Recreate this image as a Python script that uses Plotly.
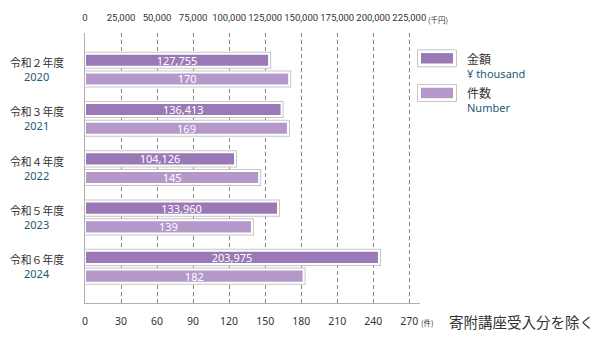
import plotly.graph_objects as go

# ---- data ----
year_labels = ["令和２年度", "令和３年度", "令和４年度", "令和５年度", "令和６年度"]
fiscal_years = ["2020", "2021", "2022", "2023", "2024"]
amounts = [127755, 136413, 104126, 133960, 203975]   # 金額 (千円)
counts = [170, 169, 145, 139, 182]                     # 件数
amount_ticks = [0, 25000, 50000, 75000, 100000, 125000, 150000, 175000, 200000, 225000]
count_ticks = [0, 30, 60, 90, 120, 150, 180, 210, 240, 270]

# ---- style ----
C_AMT = "#9b79b6"
C_CNT = "#b598ca"
C_EDGE = "#c6c6c6"
C_TEAL = "#1d5877"
C_TXT = "#333333"
FONT = "Noto Sans, Open Sans, sans-serif"
CJK = "Noto Sans CJK JP, Noto Sans, sans-serif"
COND = "Roboto, Noto Sans, sans-serif"

W, H = 600, 340
L, R, T, B = 85, 420, 27, 305
BAR_W = 0.266
OFF = 0.19

idx = list(range(len(year_labels)))
amt_y = [i - OFF for i in idx]
cnt_y = [i + OFF for i in idx]

fig = go.Figure()

def add_bars(xvals, yvals, color, xaxis, texts):
    # outer grey frame
    fig.add_trace(go.Bar(
        x=xvals, y=yvals, orientation="h", width=BAR_W, xaxis=xaxis,
        marker=dict(color="white", line=dict(color=C_EDGE, width=4)),
        hoverinfo="skip", showlegend=False))
    # purple bar with white border
    fig.add_trace(go.Bar(
        x=xvals, y=yvals, orientation="h", width=BAR_W, xaxis=xaxis,
        marker=dict(color=color, line=dict(color="white", width=2)),
        text=texts, textposition="inside", insidetextanchor="middle",
        constraintext="none",
        textfont=dict(color="white", size=11, family=FONT),
        showlegend=False))

add_bars(counts, cnt_y, C_CNT, "x", [f"{v:,}" for v in counts])
add_bars(amounts, amt_y, C_AMT, "x2", [f"{v:,}" for v in amounts])

cnt_max = 270 * (R - L) / (36.03 * 9)
amt_max = 225000 * (R - L) / (36.03 * 9)

fig.update_layout(
    width=W, height=H,
    margin=dict(l=L, r=W - R, t=T, b=H - B, pad=0),
    paper_bgcolor="white", plot_bgcolor="white",
    barmode="overlay",
    xaxis=dict(
        range=[0, cnt_max], tickvals=count_ticks,
        ticktext=[str(v) for v in count_ticks],
        showgrid=True, gridcolor="#8a8a8a", griddash="4px,3px", gridwidth=1,
        zeroline=False, showline=True, linecolor="#b0b0b0", linewidth=1,
        ticks="", ticklabelstandoff=8, tickangle=0,
        tickfont=dict(family=FONT, size=10.5, color=C_TXT),
        fixedrange=True),
    xaxis2=dict(
        range=[0, amt_max], overlaying="x", side="top",
        tickvals=amount_ticks, ticktext=[f"{v:,}" for v in amount_ticks],
        showgrid=False, zeroline=False, showline=False, ticks="",
        ticklabelstandoff=9, tickangle=0,
        tickfont=dict(family=COND, size=9.5, color=C_TXT),
        fixedrange=True),
    yaxis=dict(
        range=[4.735, -0.743], showticklabels=False, showgrid=False,
        zeroline=False, showline=True, linecolor="#b0b0b0", linewidth=1,
        ticks="", fixedrange=True),
    font=dict(family=FONT, color=C_TXT),
)

def px(x):
    return (x - L) / (R - L)

def py(y):
    return (B - y) / (B - T)

# y category labels (two separate lines)
for i, (yl, fy) in enumerate(zip(year_labels, fiscal_years)):
    fig.add_annotation(
        x=px(36.5), xref="paper", y=i, yref="y", xanchor="center", yanchor="middle",
        yshift=7.5, text=yl, showarrow=False, borderpad=0,
        font=dict(family=CJK, size=10.8, color=C_TXT))
    fig.add_annotation(
        x=px(36.5), xref="paper", y=i, yref="y", xanchor="center", yanchor="middle",
        yshift=-7, text=fy, showarrow=False, borderpad=0,
        font=dict(family=FONT, size=11, color=C_TEAL))

# unit annotations
fig.add_annotation(x=px(426), y=py(13.5), xref="paper", yref="paper",
                   xanchor="left", yanchor="middle", text="(千円)", showarrow=False,
                   font=dict(family=CJK, size=7.5, color=C_TXT))
fig.add_annotation(x=px(419), y=py(325), xref="paper", yref="paper",
                   xanchor="left", yanchor="middle", text="(件)", showarrow=False,
                   font=dict(family=CJK, size=7.5, color=C_TXT))
fig.add_annotation(x=px(447), y=py(324), xref="paper", yref="paper",
                   xanchor="left", yanchor="middle", text="寄附講座受入分を除く",
                   showarrow=False, font=dict(family=CJK, size=14.5, color=C_TXT))

# legend
legend_items = [("金額", "¥ thousand", C_AMT, 44.3, 53, 68.3),
                ("件数", "Number", C_CNT, 80.0, 88.5, 103.3)]
for name, sub, col, top, yname, ysub in legend_items:
    fig.add_shape(type="rect", xref="paper", yref="paper",
                  x0=px(417.5), x1=px(456.5), y0=py(top), y1=py(top + 17.5),
                  line=dict(color=C_EDGE, width=1), fillcolor="white", layer="above")
    fig.add_shape(type="rect", xref="paper", yref="paper",
                  x0=px(421), x1=px(453), y0=py(top + 3.4), y1=py(top + 14.1),
                  line=dict(width=0), fillcolor=col, layer="above")
    fig.add_annotation(x=px(466), y=py(yname), xref="paper", yref="paper",
                       xanchor="left", yanchor="middle", text=name, showarrow=False,
                       borderpad=0, font=dict(family=CJK, size=12, color=C_TXT))
    fig.add_annotation(x=px(466), y=py(ysub), xref="paper", yref="paper",
                       xanchor="left", yanchor="middle", text=sub, showarrow=False,
                       borderpad=0, font=dict(family=FONT, size=11, color=C_TEAL))

fig.write_html("out.html", config={"displayModeBar": False})
